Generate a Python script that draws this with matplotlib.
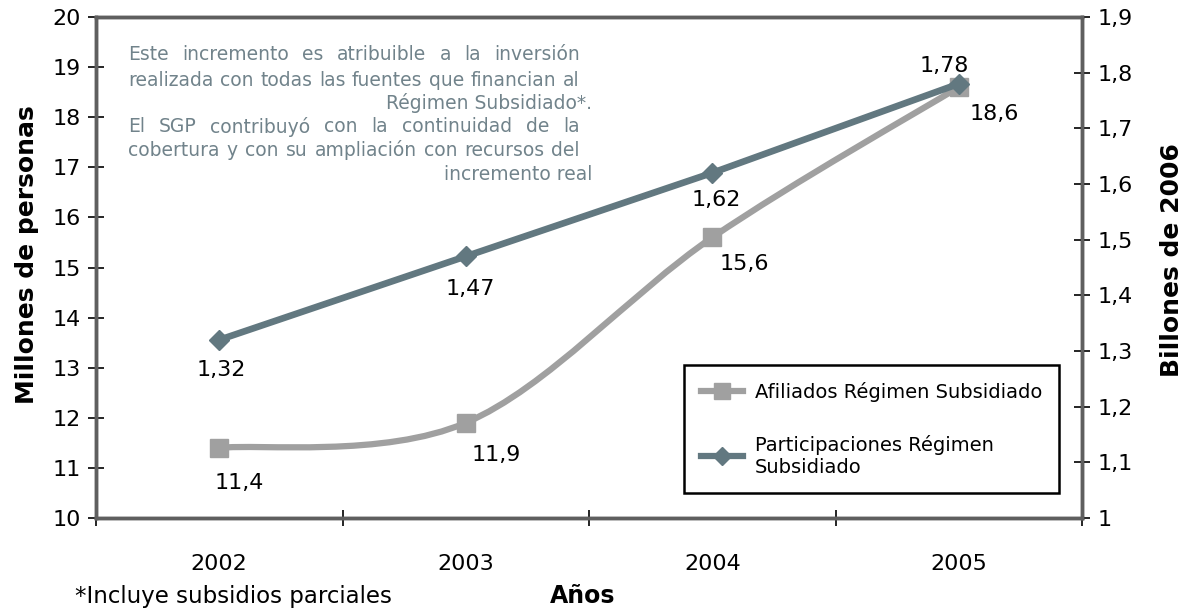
import numpy as np
import matplotlib
matplotlib.use("Agg")
import matplotlib.pyplot as plt
from matplotlib.path import Path
from matplotlib.patches import PathPatch
from matplotlib.lines import Line2D
from matplotlib.ticker import FuncFormatter

# data
years = ["2002", "2003", "2004", "2005"]
afiliados = [11.4, 11.9, 15.6, 18.6]          # millones de personas (left axis)
participaciones = [1.32, 1.47, 1.62, 1.78]    # billones de 2006 (right axis)
left_ticks = [10, 11, 12, 13, 14, 15, 16, 17, 18, 19, 20]
right_ticks = [1.0, 1.1, 1.2, 1.3, 1.4, 1.5, 1.6, 1.7, 1.8, 1.9]

nota_lines = [
    "Este incremento es atribuible a la inversión",
    "realizada con todas las fuentes que financian al",
    "Régimen Subsidiado*.",
    "El SGP contribuyó con la continuidad de la",
    "cobertura y con su ampliación con recursos del",
    "incremento real",
]
nota_justified = [True, True, False, True, True, False]

# label offsets in pixels (placement only)
afil_offsets = [(20, -35), (31, -32), (32, -27), (36, -27)]
part_offsets = [(2, -30), (4, -33), (4, -27), (-15, 18)]

W, H = 1200, 611
C_LIGHT = "#a0a0a0"
C_DARK = "#627880"
C_NOTE = "#71838b"
C_SPINE = "#5f5f5f"


def fx(px):
    return px / W


def fy(py):
    return 1 - py / H


def smooth_path(xs, ys):
    """Excel-like smoothed line as cubic Bezier segments (Catmull-Rom)."""
    pts = np.column_stack([xs, ys]).astype(float)
    n = len(pts)
    verts = [pts[0]]
    codes = [Path.MOVETO]
    for i in range(n - 1):
        p_prev = pts[max(i - 1, 0)]
        p0, p1 = pts[i], pts[i + 1]
        p_next = pts[min(i + 2, n - 1)]
        c1 = p0 + (p1 - p_prev) / 6
        c2 = p1 - (p_next - p0) / 6
        verts += [c1, c2, p1]
        codes += [Path.CURVE4] * 3
    return Path(verts, codes)


fig = plt.figure(figsize=(W / 100, H / 100), dpi=100)
ax = fig.add_axes([fx(96), fy(518), fx(1082) - fx(96), fy(17) - fy(518)])
ax2 = ax.twinx()

x = np.arange(len(years))

# Afiliados: smoothed light-gray line with squares
ax.add_patch(PathPatch(smooth_path(x, afiliados), fill=False,
                       edgecolor=C_LIGHT, linewidth=4.5, capstyle="butt"))
ax.plot(x, afiliados, linestyle="none", marker="s", markersize=13,
        color=C_LIGHT, zorder=3)

# Participaciones: straight dark line with diamonds
ax2.plot(x, participaciones, color=C_DARK, linewidth=4.8, marker="D",
         markersize=10, zorder=3)

ax.set_xlim(-0.5, 3.5)
ax.set_ylim(10, 20)
ax2.set_ylim(1.0, 1.9)

ax.set_yticks(left_ticks)
ax2.set_yticks(right_ticks)
ax2.yaxis.set_major_formatter(
    FuncFormatter(lambda v, _: ("%.1f" % v).replace(".", ",").replace(",0", "")))

ax.set_xticks(np.arange(-0.5, 3.6, 1.0))
ax.set_xticklabels([])
ax.set_xticks(x, minor=True)
ax.set_xticklabels(years, minor=True)

for a in (ax, ax2):
    for sp in a.spines.values():
        sp.set_color(C_SPINE)
        sp.set_linewidth(2.5)
    a.set_facecolor("none")

ax.tick_params(axis="both", which="major", direction="inout", length=12,
               width=1.2, color="black", labelsize=16, pad=5)
ax.tick_params(axis="x", which="minor", length=0, labelsize=16, pad=26)
ax2.tick_params(axis="y", direction="inout", length=12, width=1.2,
                color="black", labelsize=16, pad=5)

# data labels
for xi, v, off in zip(x, afiliados, afil_offsets):
    ax.annotate(("%.1f" % v).replace(".", ","), (xi, v), xytext=off,
                textcoords="offset pixels", ha="center", va="center",
                fontsize=16, zorder=5)
for xi, v, off in zip(x, participaciones, part_offsets):
    ax2.annotate(("%.2f" % v).replace(".", ","), (xi, v), xytext=off,
                 textcoords="offset pixels", ha="center", va="center",
                 fontsize=16, zorder=5)

# legend
handles = [
    Line2D([], [], color=C_LIGHT, linewidth=4.5, marker="s", markersize=11),
    Line2D([], [], color=C_DARK, linewidth=4.5, marker="D", markersize=9),
]
labels = ["Afiliados Régimen Subsidiado", "Participaciones Régimen\nSubsidiado"]
leg = ax2.legend(handles, labels, loc="upper right",
                 bbox_to_anchor=(fx(1059), fy(365)), bbox_transform=fig.transFigure,
                 fontsize=14, frameon=True, fancybox=False, framealpha=1,
                 edgecolor="black", borderpad=0.85, labelspacing=1.7,
                 handlelength=2.2, handletextpad=0.6, borderaxespad=0)
leg.get_frame().set_linewidth(1.8)

# explanatory note: justified lines between x0 and x1, last lines right-aligned
renderer = fig.canvas.get_renderer()
note_y = [55, 80, 103, 127, 150, 174]
x0, x1, x_end = 128, 580, 592
for line, yy, just in zip(nota_lines, note_y, nota_justified):
    if not just:
        fig.text(fx(x_end), fy(yy), line, ha="right", va="center",
                 fontsize=13.5, color=C_NOTE)
        continue
    words = [fig.text(0, fy(yy), w, ha="left", va="center", fontsize=13.5,
                      color=C_NOTE) for w in line.split()]
    widths = [t.get_window_extent(renderer).width for t in words]
    gap = (x1 - x0 - sum(widths)) / (len(words) - 1)
    pos = x0
    for t, w in zip(words, widths):
        t.set_x(fx(pos))
        pos += w + gap

# axis titles and footnote
fig.text(fx(27), fy(255), "Millones de personas", rotation=90, ha="center",
         va="center", fontsize=18, fontweight="bold")
fig.text(fx(1172), fy(260), "Billones de 2006", rotation=90, ha="center",
         va="center", fontsize=18, fontweight="bold")
fig.text(fx(550), fy(596), "Años", ha="left", va="center", fontsize=17,
         fontweight="bold")
fig.text(fx(75), fy(596), "*Incluye subsidios parciales", ha="left",
         va="center", fontsize=16.5)

fig.savefig("out.png", dpi=100)
